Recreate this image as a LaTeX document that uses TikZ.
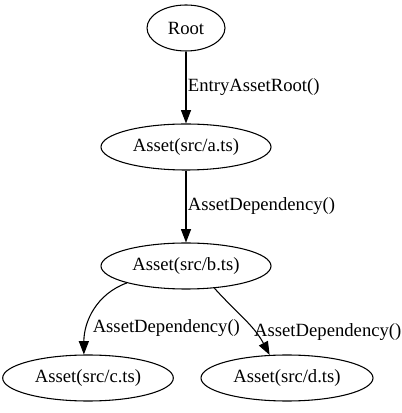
\documentclass[tikz,border=0pt]{standalone}
\usepackage{fontspec}
\setmainfont{Liberation Serif}
\usetikzlibrary{arrows.meta,shapes.geometric}

\begin{document}
\begin{tikzpicture}[x=0.75pt,y=0.75pt,->,>={Triangle[length=10pt,width=7.5pt]},thick,
                    main node/.style={ellipse,draw,inner sep=0pt,minimum height=34.5pt,
                    font=\fontsize{14}{16}\selectfont}]
\useasboundingbox (0,0) rectangle (402,413);
\node[main node,minimum width=58.5pt] (1) at (186,385) {Root};
\node[main node,minimum width=127.5pt] (2) at (186,266) {Asset(src/a.ts)};
\node[main node,minimum width=127.5pt] (3) at (186,147) {Asset(src/b.ts)};
\node[main node,minimum width=128pt] (4) at (88,35) {Asset(src/c.ts)};
\node[main node,minimum width=129pt] (5) at (287,35) {Asset(src/d.ts)};
\path[every node/.style={font=\fontsize{14}{16}\selectfont,right,inner sep=1pt}]

(1) edge node {EntryAssetRoot()} (2)
(2) edge node {AssetDependency()} (3)
(3.-164) edge[out=-160,in=90] node[pos=0.72,xshift=3pt] {AssetDependency()} (4.100)
(3.-38) edge[out=-48,in=118] node[pos=0.7,xshift=-2pt] {AssetDependency()} (5.127)
;

\end{tikzpicture}
\end{document}
